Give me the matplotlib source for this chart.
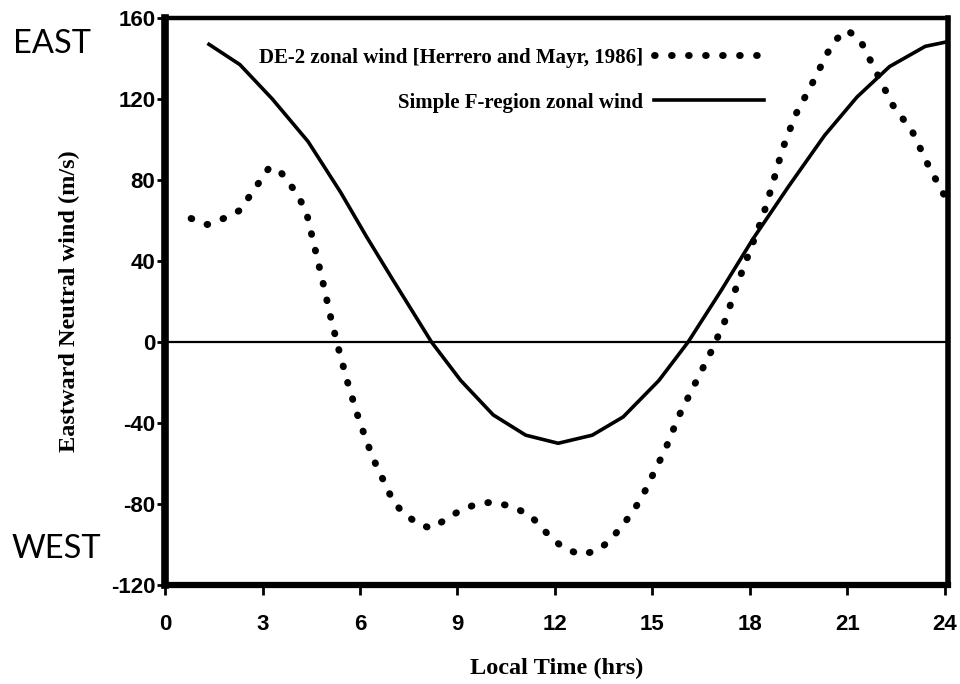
import numpy as np
import matplotlib.pyplot as plt

# DE-2 zonal wind (dotted)
de2_hrs = [0.8, 1.3, 1.8, 2.3, 2.6, 2.9, 3.2, 3.5, 3.8, 4.1, 4.35, 4.6, 4.85,
           5.1, 5.35, 5.6, 5.9, 6.2, 6.5, 6.8, 7.0, 7.3, 7.8, 8.2, 8.6, 9.1,
           9.6, 10.1, 10.6, 11.2, 11.5, 11.9, 12.3, 12.8, 13.3, 13.7, 14.0,
           14.35, 14.7, 15.0, 15.4, 15.8, 16.3, 16.8, 17.25, 17.6, 18.0, 18.4,
           18.7, 19.0, 19.4, 19.9, 20.4, 20.7, 21.0, 21.4, 21.9, 22.4, 23.0,
           23.5, 24.0]
de2_wind = [61, 58, 61, 65, 72, 79, 86, 85, 79, 72, 64, 47, 30,
            12, -4, -19, -35, -49, -61, -71, -78, -84, -90, -92, -88, -83,
            -80, -79, -81, -85, -90, -97, -102, -105, -103, -98, -92,
            -85, -76, -66, -53, -37, -21, -5, 11, 28, 45, 62,
            78, 95, 112, 127, 143, 150, 154, 149, 133, 117, 104,
            87, 72]

# simple F-region zonal wind (solid)
fr_hrs = [1.35, 2.3, 3.3, 4.4, 5.4, 6.2, 7.0, 8.2, 9.1, 10.1, 11.1, 12.1,
          13.15, 14.1, 15.2, 16.1, 17.1, 18.1, 19.2, 20.3, 21.3, 22.3, 23.4, 24.0]
fr_wind = [147, 137, 120, 99, 74, 52, 31, 0, -19, -36, -46, -50,
           -46, -37, -19, 0, 25, 51, 77, 102, 121, 136, 146, 148]

xticks = [0, 3, 6, 9, 12, 15, 18, 21, 24]
yticks = [-120, -80, -40, 0, 40, 80, 120, 160]

fig = plt.figure(figsize=(9.6, 6.84), dpi=100)
ax = fig.add_axes([0.172, 0.1447, 0.8155, 0.829])

ax.axhline(0, color="black", lw=1.6)
ax.plot(de2_hrs, de2_wind, color="black", lw=5, linestyle=(0, (0.1, 2.35)),
        dash_capstyle="round", label="DE-2 zonal wind [Herrero and Mayr, 1986]")
ax.plot(fr_hrs, fr_wind, color="black", lw=2.6,
        label="Simple F-region zonal wind")

ax.set_xlim(0, 24.1)
ax.set_ylim(-120, 160)
ax.set_xticks(xticks)
ax.set_yticks(yticks)

tickfont = dict(family="Liberation Sans", weight="bold", size=16)
ax.set_xticklabels([str(t) for t in xticks], **tickfont)
ax.set_yticklabels([str(t) for t in yticks], **tickfont)
ax.tick_params(axis="x", direction="out", length=7, width=2, pad=14)
ax.tick_params(axis="y", direction="out", length=6, width=2, pad=1)

for side, w in [("left", 5.5), ("bottom", 4.5), ("top", 3.2), ("right", 4.0)]:
    ax.spines[side].set_linewidth(w)

labfont = dict(family="Liberation Serif", weight="bold", size=17.5)
ax.set_xlabel("Local Time (hrs)", labelpad=16, **labfont)
ax.set_ylabel("Eastward Neutral wind (m/s)", labelpad=22, **labfont)

leg = ax.legend(loc="upper right", bbox_to_anchor=(0.789, 0.981), frameon=False,
                markerfirst=False, handlelength=5.3, handletextpad=0.5,
                labelspacing=1.2,
                prop=dict(family="Liberation Serif", weight="bold", size=15))

fig.text(0.014, 0.936, "EAST", family="Lato", size=23.5, va="center", ha="left")
fig.text(0.012, 0.197, "WEST", family="Lato", size=23.5, va="center", ha="left")

fig.savefig("out.png", dpi=100)
